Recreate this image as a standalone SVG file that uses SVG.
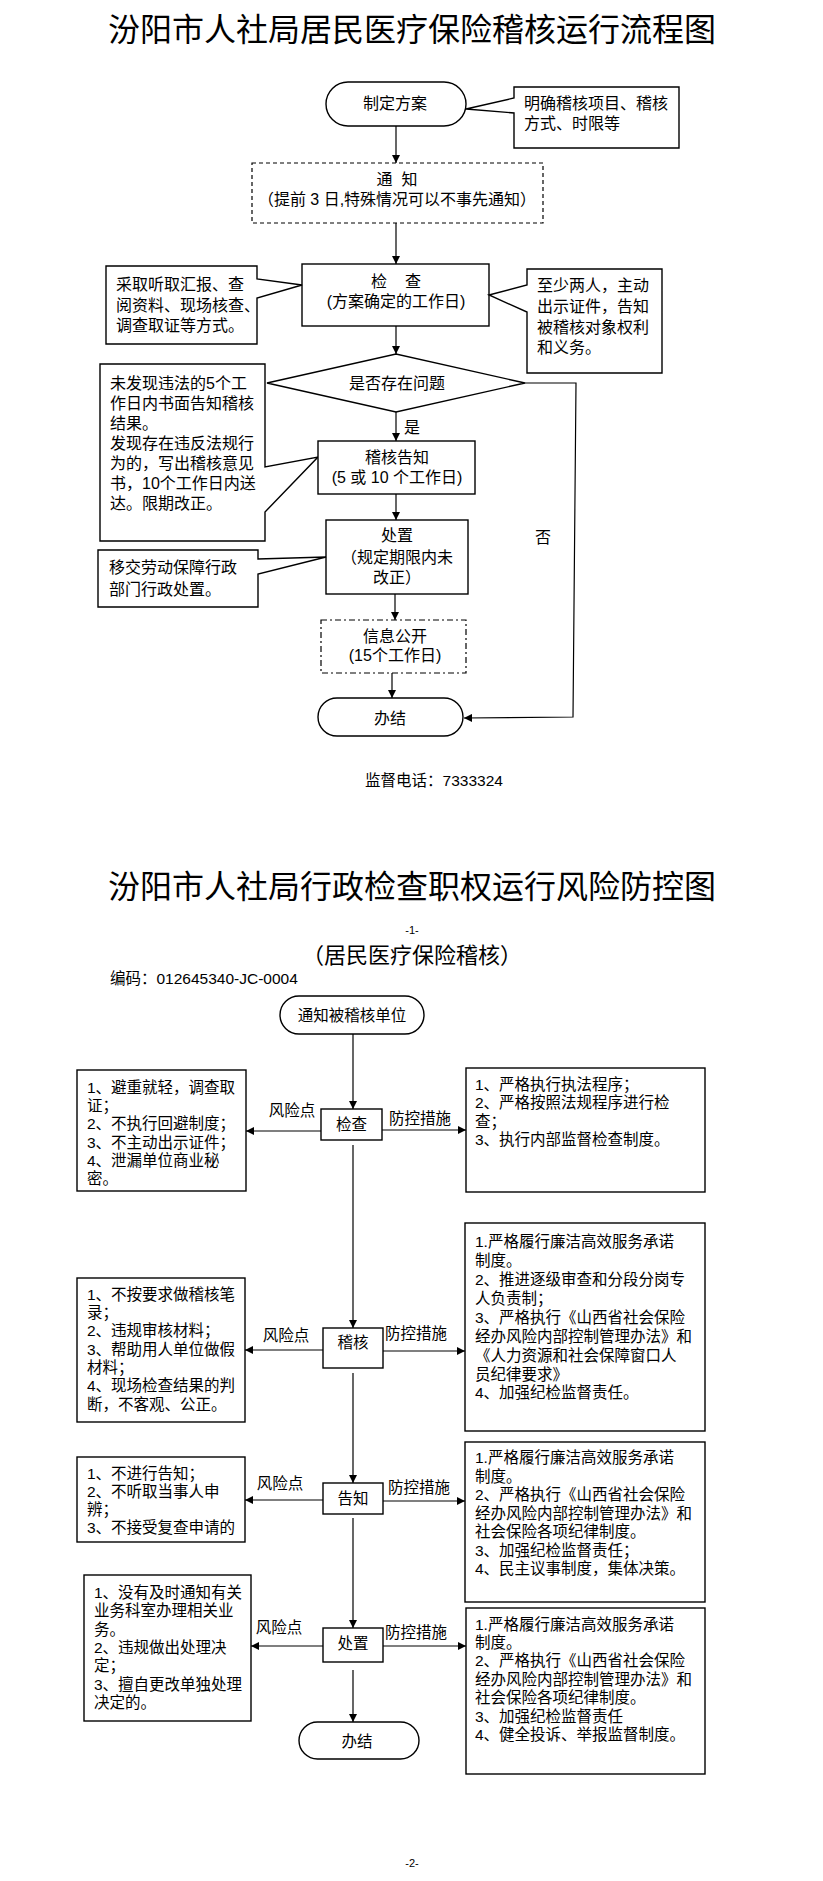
<svg xmlns="http://www.w3.org/2000/svg" width="823" height="1881" viewBox="0 0 823 1881">
<style>
text{font-family:"Liberation Sans","Noto Sans CJK SC",sans-serif;fill:#000;dominant-baseline:central}
.title{font-size:32px;text-anchor:middle}
.sub{font-size:22px;text-anchor:middle}
.t{font-size:16px}
.s{font-size:15.5px}
.c{text-anchor:middle}
.pg{font-size:11px;text-anchor:middle}
.box{fill:#fff;stroke:#000;stroke-width:1.4}
.dash{fill:#fff;stroke:#000;stroke-width:1.2;stroke-dasharray:4 3}
.dd{fill:#fff;stroke:#000;stroke-width:1.2;stroke-dasharray:6 3 2 3}
.ln{fill:none;stroke:#000;stroke-width:1.2}
.arr{marker-end:url(#ah)}
</style>
<defs>
<marker id="ah" viewBox="0 0 10 10" refX="10" refY="5" markerWidth="8" markerHeight="8" markerUnits="userSpaceOnUse" orient="auto">
<path d="M0,0 L10,5 L0,10 z" fill="#000"/>
</marker>
</defs>
<rect width="823" height="1881" fill="#fff"/>

<text class="title" x="412" y="30">汾阳市人社局居民医疗保险稽核运行流程图</text>

<g id="connectors1">
<line class="ln arr" x1="396" y1="126" x2="396" y2="163"/>
<line class="ln arr" x1="396" y1="223" x2="396" y2="264"/>
<line class="ln arr" x1="396" y1="326" x2="396" y2="354"/>
<line class="ln arr" x1="396" y1="412" x2="396" y2="441"/>
<line class="ln arr" x1="396" y1="494" x2="396" y2="520"/>
<line class="ln arr" x1="395" y1="594" x2="395" y2="620"/>
<line class="ln arr" x1="392" y1="673" x2="392" y2="698"/>
<polyline class="ln arr" points="525,383 576,383 573,717 464,718"/>
<text class="t c" x="412" y="427">是</text>
<text class="t c" x="543" y="537">否</text>
</g>

<g id="n-zhiding">
<rect class="box" x="326" y="82" width="140" height="44" rx="22" ry="22"/>
<text class="t c" x="395" y="103">制定方案</text>
</g>
<g id="note-mingque">
<path class="box" d="M514,87 H679 V148 H514 V113 L466,109 L514,98 Z"/>
<text class="t"><tspan x="524" y="103">明确稽核项目、稽核</tspan><tspan x="524" y="123">方式、时限等</tspan></text>
</g>
<g id="n-tongzhi">
<rect class="dash" x="252" y="163" width="291" height="60"/>
<text class="t c"><tspan x="397" y="179" xml:space="preserve">通  知</tspan><tspan x="397" y="199">（提前 3 日,特殊情况可以不事先通知）</tspan></text>
</g>
<g id="n-jiancha">
<rect class="box" x="302" y="264" width="187" height="62"/>
<text class="t c"><tspan x="396" y="281" xml:space="preserve">检    查</tspan><tspan x="396" y="301">(方案确定的工作日)</tspan></text>
</g>
<g id="note-caiqu">
<path class="box" d="M106,266 H257 V279 L302,285 L257,298 V344 H106 Z"/>
<text class="t"><tspan x="116" y="284">采取听取汇报、查</tspan><tspan x="116" y="305">阅资料、现场核查、</tspan><tspan x="116" y="325">调查取证等方式。</tspan></text>
</g>
<g id="note-zhishao">
<path class="box" d="M527,269 H662 V373 H527 V312 L489,295 L527,285 Z"/>
<text class="t"><tspan x="537" y="285">至少两人，主动</tspan><tspan x="537" y="306">出示证件，告知</tspan><tspan x="537" y="327">被稽核对象权利</tspan><tspan x="537" y="347">和义务。</tspan></text>
</g>
<g id="n-wenti">
<polygon class="box" points="267,383 396,354 525,383 396,412"/>
<text class="t c" x="397" y="383">是否存在问题</text>
</g>
<g id="note-weifaxian">
<path class="box" d="M100,364 H265 V467 L318,457 L265,512 V541 H100 Z"/>
<text class="t"><tspan x="110" y="383">未发现违法的5个工</tspan><tspan x="110" y="403">作日内书面告知稽核</tspan><tspan x="110" y="423">结果。</tspan><tspan x="110" y="443">发现存在违反法规行</tspan><tspan x="110" y="463">为的，写出稽核意见</tspan><tspan x="110" y="483">书，10个工作日内送</tspan><tspan x="110" y="503">达。限期改正。</tspan></text>
</g>
<g id="n-gaozhi">
<rect class="box" x="318" y="441" width="157" height="53"/>
<text class="t c"><tspan x="397" y="457">稽核告知</tspan><tspan x="397" y="477">(5 或 10 个工作日)</tspan></text>
</g>
<g id="n-chuzhi">
<rect class="box" x="326" y="520" width="142" height="74"/>
<text class="t c"><tspan x="397" y="535">处置</tspan><tspan x="397" y="557">（规定期限内未</tspan><tspan x="397" y="577">改正）</tspan></text>
</g>
<g id="note-yijiao">
<path class="box" d="M98,550 H258 V559 L326,557 L258,574 V607 H98 Z"/>
<text class="t"><tspan x="109" y="567">移交劳动保障行政</tspan><tspan x="109" y="589">部门行政处置。</tspan></text>
</g>
<g id="n-gongkai">
<rect class="dd" x="321" y="620" width="145" height="53"/>
<text class="t c"><tspan x="395" y="636">信息公开</tspan><tspan x="395" y="655">(15个工作日)</tspan></text>
</g>
<g id="n-banjie1">
<rect class="box" x="318" y="698" width="145" height="38" rx="19" ry="19"/>
<text class="t c" x="390" y="718">办结</text>
</g>
<text class="s c" x="434" y="780">监督电话：7333324</text>

<text class="title" x="412" y="887">汾阳市人社局行政检查职权运行风险防控图</text>
<text class="pg" x="412" y="930">-1-</text>
<text class="sub" x="412" y="955">（居民医疗保险稽核）</text>
<text class="s" x="110" y="978">编码：012645340-JC-0004</text>

<g id="connectors2">
<line class="ln arr" x1="353" y1="1034" x2="353" y2="1109"/>
<line class="ln arr" x1="353" y1="1145" x2="353" y2="1328"/>
<line class="ln arr" x1="353" y1="1373" x2="353" y2="1483"/>
<line class="ln arr" x1="353" y1="1518" x2="353" y2="1628"/>
<line class="ln arr" x1="353" y1="1670" x2="353" y2="1722"/>
<line class="ln arr" x1="321" y1="1131" x2="246" y2="1131"/>
<line class="ln arr" x1="382" y1="1130" x2="466" y2="1130"/>
<line class="ln arr" x1="323" y1="1350" x2="245" y2="1350"/>
<line class="ln arr" x1="383" y1="1351" x2="465" y2="1351"/>
<line class="ln arr" x1="323" y1="1500" x2="245" y2="1500"/>
<line class="ln arr" x1="383" y1="1501" x2="465" y2="1501"/>
<line class="ln arr" x1="323" y1="1646" x2="251" y2="1646"/>
<line class="ln arr" x1="383" y1="1646" x2="466" y2="1646"/>
<text class="s c" x="292" y="1110">风险点</text>
<text class="s c" x="420" y="1118">防控措施</text>
<text class="s c" x="286" y="1335">风险点</text>
<text class="s c" x="416" y="1333">防控措施</text>
<text class="s c" x="280" y="1483">风险点</text>
<text class="s c" x="419" y="1487">防控措施</text>
<text class="s c" x="279" y="1627">风险点</text>
<text class="s c" x="416" y="1632">防控措施</text>
</g>

<g id="m-start">
<rect class="box" x="280" y="996" width="144" height="38" rx="19" ry="19"/>
<text class="s c" x="352" y="1015">通知被稽核单位</text>
</g>
<g id="m-jiancha">
<rect class="box" x="321" y="1109" width="61" height="31"/>
<text class="s c" x="351.5" y="1124">检查</text>
</g>
<g id="risk1">
<rect class="box" x="77" y="1070" width="169" height="121"/>
<text class="s"><tspan x="87" y="1087">1、避重就轻，调查取</tspan><tspan x="87" y="1105">证；</tspan><tspan x="87" y="1123">2、不执行回避制度；</tspan><tspan x="87" y="1142">3、不主动出示证件；</tspan><tspan x="87" y="1160">4、泄漏单位商业秘</tspan><tspan x="87" y="1178">密。</tspan></text>
</g>
<g id="measure1">
<rect class="box" x="466" y="1068" width="239" height="124"/>
<text class="s"><tspan x="475" y="1084">1、严格执行执法程序；</tspan><tspan x="475" y="1102">2、严格按照法规程序进行检</tspan><tspan x="475" y="1121">查；</tspan><tspan x="475" y="1139">3、执行内部监督检查制度。</tspan></text>
</g>

<g id="m-jihe">
<rect class="box" x="323" y="1328" width="60" height="40"/>
<text class="s c" x="353" y="1342">稽核</text>
</g>
<g id="risk2">
<rect class="box" x="77" y="1278" width="168" height="144"/>
<text class="s"><tspan x="87" y="1294">1、不按要求做稽核笔</tspan><tspan x="87" y="1312">录；</tspan><tspan x="87" y="1330">2、违规审核材料；</tspan><tspan x="87" y="1349">3、帮助用人单位做假</tspan><tspan x="87" y="1367">材料；</tspan><tspan x="87" y="1385">4、现场检查结果的判</tspan><tspan x="87" y="1404">断，不客观、公正。</tspan></text>
</g>
<g id="measure2">
<rect class="box" x="465" y="1223" width="240" height="208"/>
<text class="s"><tspan x="475" y="1241">1.严格履行廉洁高效服务承诺</tspan><tspan x="475" y="1260">制度。</tspan><tspan x="475" y="1279">2、推进逐级审查和分段分岗专</tspan><tspan x="475" y="1298">人负责制；</tspan><tspan x="475" y="1317">3、严格执行《山西省社会保险</tspan><tspan x="475" y="1336">经办风险内部控制管理办法》和</tspan><tspan x="475" y="1355">《人力资源和社会保障窗口人</tspan><tspan x="475" y="1374">员纪律要求》</tspan><tspan x="475" y="1392">4、加强纪检监督责任。</tspan></text>
</g>

<g id="m-gaozhi">
<rect class="box" x="323" y="1483" width="60" height="31"/>
<text class="s c" x="353" y="1498">告知</text>
</g>
<g id="risk3">
<rect class="box" x="77" y="1457" width="168" height="85"/>
<text class="s"><tspan x="87" y="1473">1、不进行告知；</tspan><tspan x="87" y="1491">2、不听取当事人申</tspan><tspan x="87" y="1509">辨；</tspan><tspan x="87" y="1527">3、不接受复查申请的</tspan></text>
</g>
<g id="measure3">
<rect class="box" x="465" y="1442" width="240" height="160"/>
<text class="s"><tspan x="475" y="1457">1.严格履行廉洁高效服务承诺</tspan><tspan x="475" y="1476">制度。</tspan><tspan x="475" y="1494">2、严格执行《山西省社会保险</tspan><tspan x="475" y="1513">经办风险内部控制管理办法》和</tspan><tspan x="475" y="1531">社会保险各项纪律制度。</tspan><tspan x="475" y="1550">3、加强纪检监督责任；</tspan><tspan x="475" y="1568">4、民主议事制度，集体决策。</tspan></text>
</g>

<g id="m-chuzhi">
<rect class="box" x="323" y="1628" width="60" height="34"/>
<text class="s c" x="353" y="1643">处置</text>
</g>
<g id="risk4">
<rect class="box" x="84" y="1575" width="167" height="146"/>
<text class="s"><tspan x="94" y="1592">1、没有及时通知有关</tspan><tspan x="94" y="1610">业务科室办理相关业</tspan><tspan x="94" y="1629">务。</tspan><tspan x="94" y="1647">2、违规做出处理决</tspan><tspan x="94" y="1665">定；</tspan><tspan x="94" y="1684">3、擅自更改单独处理</tspan><tspan x="94" y="1702">决定的。</tspan></text>
</g>
<g id="measure4">
<rect class="box" x="466" y="1608" width="239" height="166"/>
<text class="s"><tspan x="475" y="1624">1.严格履行廉洁高效服务承诺</tspan><tspan x="475" y="1642">制度。</tspan><tspan x="475" y="1660">2、严格执行《山西省社会保险</tspan><tspan x="475" y="1679">经办风险内部控制管理办法》和</tspan><tspan x="475" y="1697">社会保险各项纪律制度。</tspan><tspan x="475" y="1716">3、加强纪检监督责任</tspan><tspan x="475" y="1734">4、健全投诉、举报监督制度。</tspan></text>
</g>
<g id="m-banjie">
<rect class="box" x="299" y="1722" width="120" height="37" rx="18.5" ry="18.5"/>
<text class="s c" x="357" y="1741">办结</text>
</g>
<text class="pg" x="412" y="1863">-2-</text>
</svg>
